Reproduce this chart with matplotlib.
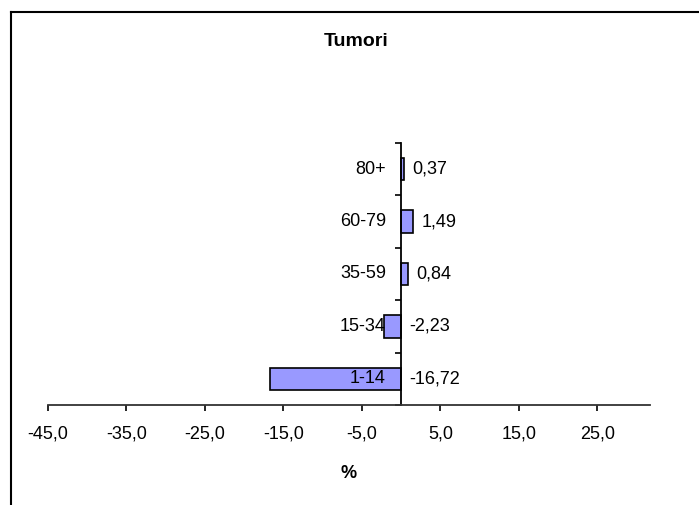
import matplotlib.pyplot as plt
from matplotlib.lines import Line2D
import numpy as np

plt.rcParams['font.family'] = ['Liberation Sans', 'DejaVu Sans']

# data
categories = ['1-14', '15-34', '35-59', '60-79', '80+']
values = [-16.72, -2.23, 0.84, 1.49, 0.37]
xticks = [-45, -35, -25, -15, -5, 5, 15, 25]

fig = plt.figure(figsize=(6.99, 5.05), dpi=100)
ax = fig.add_axes([48/699, 1-405/505, 602/699, 262/505])

y = np.arange(len(categories))
ax.barh(y, values, height=0.43, color='#9999FF', edgecolor='black', linewidth=1.2, zorder=2)

ax.set_xlim(-45, 31.7)
ax.set_ylim(-0.5, len(categories) - 0.5)

# axes look
for s in ['top', 'right']:
    ax.spines[s].set_visible(False)
ax.spines['left'].set_position(('data', 0))
ax.spines['left'].set_linewidth(1.3)
ax.spines['bottom'].set_linewidth(1.3)
ax.spines['bottom'].set_color('#333333')

ax.set_xticks(xticks)
ax.set_xticklabels([f'{t:.1f}'.replace('.', ',') for t in xticks], fontsize=13)
ax.tick_params(axis='x', direction='out', length=4, width=1.2, pad=11, colors='black')
ax.set_yticks(np.arange(-0.5, len(categories), 1.0))
ax.set_yticklabels([])
ax.tick_params(axis='y', direction='out', length=4, width=1.2)

# category labels and value labels
for yi, cat, v in zip(y, categories, values):
    ax.annotate(cat, (0, yi), xytext=(-11, 0), textcoords='offset points',
                ha='right', va='center', fontsize=13, zorder=3)
    ax.annotate(f'{v:.2f}'.replace('.', ','), (max(v, 0), yi), xytext=(6, 0),
                textcoords='offset points', ha='left', va='center', fontsize=13)

ax.set_xlabel('%', fontsize=13, fontweight='bold', labelpad=16)
fig.text(356/699, 1 - 41/505, 'Tumori', ha='center', va='center', fontsize=14, fontweight='bold')

# chart frame (only left and top visible in the crop)
fig.add_artist(Line2D([11/699, 11/699], [0, 1 - 12/505], transform=fig.transFigure, color='black', lw=1.5))
fig.add_artist(Line2D([11/699, 1], [1 - 12/505, 1 - 12/505], transform=fig.transFigure, color='black', lw=1.5))

fig.savefig('out.png', dpi=100)
